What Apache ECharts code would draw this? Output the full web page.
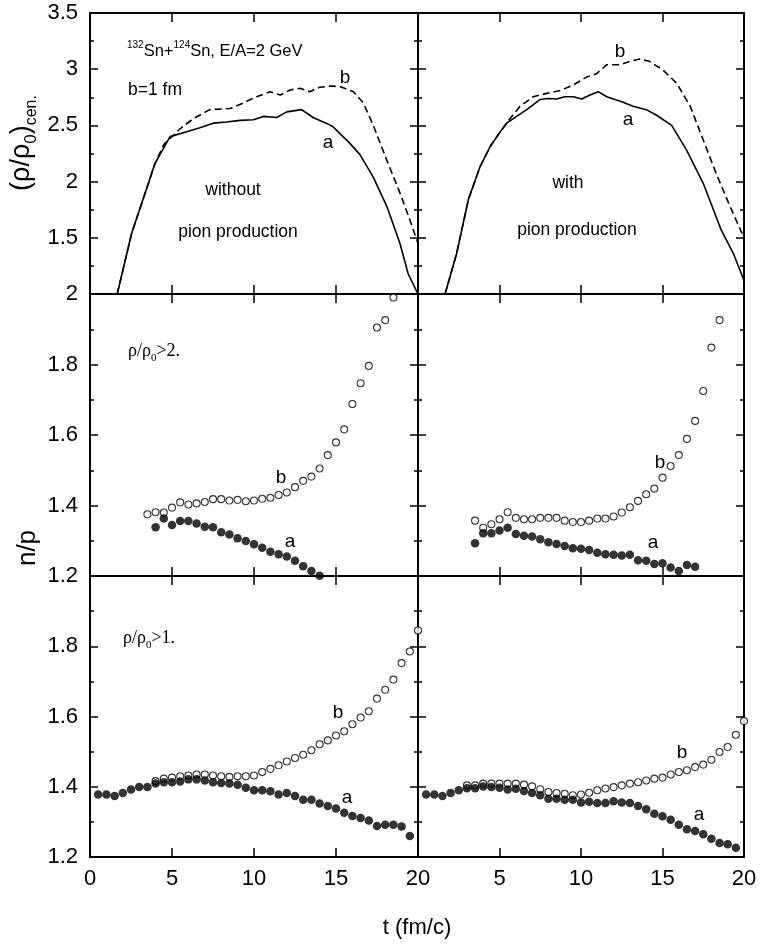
<!DOCTYPE html>
<html><head><meta charset="utf-8">
<script src="https://cdn.jsdelivr.net/npm/echarts@6/dist/echarts.min.js"></script>
<style>html,body{margin:0;padding:0;background:#fff}#c{width:760px;height:948px}</style>
</head><body><div id="c"></div>
<script>
// ---------- DATA ----------
// Top row: central density (rho/rho0)cen. vs t (fm/c)
const tTopLeftA = [1.66,2.54,3.46,3.96,4.88,5.79,6.7,7.52,8.33,9.15,9.96,10.57,11.38,12.0,12.9,13.6,14.4,14.8,15.85,16.46,17.27,18.1,18.9,19.4,20.0];
const rhoTopLeftA = [1.0,1.54,1.94,2.16,2.40,2.44,2.48,2.52,2.53,2.545,2.55,2.58,2.57,2.62,2.64,2.57,2.52,2.49,2.34,2.24,2.04,1.78,1.45,1.18,1.0];
const tTopLeftB = [1.66,2.54,3.46,3.96,4.5,5.49,6.3,7.3,8.54,9.35,10.16,10.98,11.6,12.2,12.8,13.4,14.0,14.74,15.24,16.06,16.67,17.3,18.1,18.9,19.5,20.0];
const rhoTopLeftB = [1.0,1.54,1.94,2.16,2.33,2.47,2.56,2.64,2.65,2.70,2.755,2.80,2.77,2.815,2.83,2.80,2.84,2.85,2.845,2.80,2.70,2.49,2.19,1.90,1.66,1.45];
const tTopRightA = [1.66,2.37,3.09,3.80,4.42,5.03,5.44,6.05,6.67,7.48,8.0,8.5,9.0,9.53,10.04,10.55,11.06,11.58,12.5,13.2,14.0,14.64,15.56,16.48,17.5,18.6,19.35,20.0];
const rhoTopRightA = [1.0,1.36,1.84,2.13,2.31,2.44,2.52,2.58,2.64,2.73,2.74,2.735,2.755,2.755,2.735,2.77,2.80,2.755,2.71,2.67,2.64,2.59,2.50,2.28,1.985,1.57,1.36,1.12];
const tTopRightB = [1.66,2.37,3.09,3.80,4.42,5.03,5.64,6.26,7.07,7.9,8.71,9.53,10.35,10.96,11.58,12.4,13.0,13.6,14.2,15.05,15.87,16.7,17.5,18.3,19.14,20.0];
const rhoTopRightB = [1.0,1.36,1.84,2.13,2.31,2.44,2.56,2.67,2.755,2.785,2.81,2.86,2.93,2.96,3.04,3.04,3.07,3.09,3.07,2.99,2.875,2.67,2.37,2.07,1.78,1.50];

// Middle row: n/p for rho/rho0 > 2
const tMidB = [3.5,4,4.5,5,5.5,6,6.5,7,7.5,8,8.5,9,9.5,10,10.5,11,11.5,12,12.5,13,13.5,14,14.5,15,15.5,16,16.5,17,17.5,18,18.5];
const npMidLeftB = [1.375,1.381,1.380,1.394,1.409,1.403,1.406,1.410,1.418,1.418,1.414,1.416,1.412,1.414,1.419,1.422,1.430,1.437,1.452,1.470,1.482,1.505,1.543,1.579,1.616,1.688,1.747,1.796,1.905,1.926,1.990];
const tMidLeftA = [4,4.5,5,5.5,6,6.5,7,7.5,8,8.5,9,9.5,10,10.5,11,11.5,12,12.5,13,13.5,14];
const npMidLeftA = [1.338,1.363,1.345,1.356,1.356,1.349,1.340,1.338,1.324,1.318,1.307,1.299,1.290,1.280,1.269,1.262,1.255,1.243,1.228,1.214,1.201];
const npMidRightB = [1.357,1.337,1.347,1.361,1.381,1.365,1.361,1.361,1.365,1.365,1.365,1.357,1.353,1.353,1.357,1.363,1.363,1.369,1.380,1.395,1.413,1.432,1.448,1.479,1.512,1.543,1.589,1.640,1.725,1.848,1.926];
const tMidRightA = [3.5,4,4.5,5,5.5,6,6.5,7,7.5,8,8.5,9,9.5,10,10.5,11,11.5,12,12.5,13,13.5,14,14.5,15,15.5,16,16.5,17];
const npMidRightA = [1.293,1.321,1.321,1.329,1.337,1.319,1.314,1.312,1.304,1.296,1.291,1.285,1.279,1.277,1.274,1.266,1.262,1.260,1.258,1.260,1.245,1.243,1.234,1.236,1.224,1.214,1.231,1.226];

// Bottom row: n/p for rho/rho0 > 1
const tBotA = [0.5,1,1.5,2,2.5,3,3.5,4,4.5,5,5.5,6,6.5,7,7.5,8,8.5,9,9.5,10,10.5,11,11.5,12,12.5,13,13.5,14,14.5,15,15.5,16,16.5,17,17.5,18,18.5,19,19.5];
const npBotLeftA = [1.378,1.378,1.374,1.382,1.392,1.399,1.399,1.409,1.413,1.413,1.415,1.421,1.421,1.418,1.413,1.411,1.409,1.406,1.397,1.390,1.390,1.387,1.378,1.382,1.374,1.363,1.363,1.352,1.345,1.338,1.326,1.317,1.311,1.304,1.288,1.292,1.292,1.287,1.260];
const tBotLeftB = [4,4.5,5,5.5,6,6.5,7,7.5,8,8.5,9,9.5,10,10.5,11,11.5,12,12.5,13,13.5,14,14.5,15,15.5,16,16.5,17,17.5,18,18.5,19,19.5,20];
const npBotLeftB = [1.416,1.423,1.426,1.430,1.432,1.435,1.435,1.432,1.430,1.428,1.430,1.430,1.432,1.442,1.451,1.461,1.472,1.482,1.491,1.504,1.521,1.532,1.546,1.558,1.578,1.597,1.615,1.651,1.676,1.705,1.752,1.785,1.845];
const npBotRightA = [1.378,1.378,1.374,1.382,1.390,1.396,1.396,1.401,1.399,1.397,1.392,1.394,1.388,1.382,1.376,1.366,1.366,1.363,1.363,1.355,1.357,1.354,1.354,1.359,1.355,1.354,1.345,1.336,1.323,1.316,1.306,1.292,1.279,1.274,1.265,1.252,1.240,1.236,1.226];
const tBotRightB = [3,3.5,4,4.5,5,5.5,6,6.5,7,7.5,8,8.5,9,9.5,10,10.5,11,11.5,12,12.5,13,13.5,14,14.5,15,15.5,16,16.5,17,17.5,18,18.5,19,19.5,20];
const npBotRightB = [1.404,1.404,1.409,1.409,1.409,1.409,1.409,1.406,1.401,1.393,1.385,1.382,1.380,1.376,1.378,1.383,1.390,1.395,1.399,1.404,1.409,1.413,1.418,1.423,1.426,1.435,1.442,1.447,1.456,1.463,1.477,1.499,1.513,1.548,1.587];

const xTicks = [0,5,10,15,20];
const yTopTicks = [1,1.5,2,2.5,3,3.5];
const yNpTicks = [1.2,1.4,1.6,1.8,2.0];

// ---------- BUILD ----------
const zip = (t, v) => t.map((x, i) => [x, v[i]]);
const FONT = '"Liberation Sans", Arial, sans-serif';
const SERIF = '"Liberation Serif", "Times New Roman", serif';

const grids = [
  {left:90, top:13, width:328, height:281},
  {left:418, top:13, width:326, height:281},
  {left:90, top:294, width:328, height:282},
  {left:418, top:294, width:326, height:282},
  {left:90, top:576, width:328, height:281},
  {left:418, top:576, width:326, height:281}
];
const yRange = [
  [yTopTicks[0], yTopTicks[yTopTicks.length-1], 0.5],
  [yTopTicks[0], yTopTicks[yTopTicks.length-1], 0.5],
  [yNpTicks[0], yNpTicks[yNpTicks.length-1], 0.2],
  [yNpTicks[0], yNpTicks[yNpTicks.length-1], 0.2],
  [yNpTicks[0], yNpTicks[yNpTicks.length-1], 0.2],
  [yNpTicks[0], yNpTicks[yNpTicks.length-1], 0.2]
];
const axisLine = {show:true, onZero:false, lineStyle:{color:'#000', width:2}};
const xAxes = [], yAxes = [];
grids.forEach((g, i) => {
  const bottomRow = i >= 4, leftCol = i % 2 === 0;
  const base = {type:'value', gridIndex:i, min:xTicks[0], max:xTicks[xTicks.length-1], interval:5,
    axisLine, splitLine:{show:false},
    axisTick:{show:true, inside:true, length:9, lineStyle:{color:'#000', width:1.5}}};
  xAxes.push(Object.assign({}, base, {position:'bottom',
    axisLabel:{show:bottomRow, color:'#000', fontFamily:FONT, fontSize:22, margin:11,
      formatter: v => (!leftCol && v === 0) ? '' : String(v)}}));
  xAxes.push(Object.assign({}, base, {position:'top', axisLabel:{show:false}}));
  const [mn, mx, iv] = yRange[i];
  const ybase = {type:'value', gridIndex:i, min:mn, max:mx, interval:iv,
    axisLine, splitLine:{show:false},
    axisTick:{show:true, inside:true, length:8, lineStyle:{color:'#000', width:1.5}},
    minorTick:{show:true, splitNumber:2, length:4, lineStyle:{color:'#000', width:1.5}}};
  yAxes.push(Object.assign({}, ybase, {position:'left',
    axisLabel:{show:leftCol, color:'#000', fontFamily:FONT, fontSize:22, margin:12,
      formatter: v => {
        if (i === 0 && Math.abs(v - 1) < 1e-6) return '';
        if (i === 4 && Math.abs(v - 2) < 1e-6) return '';
        return String(Math.round(v*10)/10);
      }}}));
  yAxes.push(Object.assign({}, ybase, {position:'right', axisLabel:{show:false}}));
});

function lineSeries(gi, t, v, dashed) {
  return {type:'line', xAxisIndex:2*gi, yAxisIndex:2*gi, data:zip(t, v), showSymbol:false, symbol:'none',
    lineStyle:{color:'#000', width:1.6, type: dashed ? [7,4] : 'solid'}, clip:false, z:3};
}
function openSeries(gi, t, v) {
  return {type:'scatter', xAxisIndex:2*gi, yAxisIndex:2*gi, data:zip(t, v), symbol:'circle', symbolSize:7,
    itemStyle:{color:'#fff', borderColor:'#000', borderWidth:1.1}, clip:false, z:3};
}
function filledSeries(gi, t, v) {
  return {type:'scatter', xAxisIndex:2*gi, yAxisIndex:2*gi, data:zip(t, v), symbol:'circle', symbolSize:8.5,
    itemStyle:{color:'#000'}, clip:false, z:4};
}

const series = [
  lineSeries(0, tTopLeftA, rhoTopLeftA, false),
  lineSeries(0, tTopLeftB, rhoTopLeftB, true),
  lineSeries(1, tTopRightA, rhoTopRightA, false),
  lineSeries(1, tTopRightB, rhoTopRightB, true),
  openSeries(2, tMidB, npMidLeftB),
  filledSeries(2, tMidLeftA, npMidLeftA),
  openSeries(3, tMidB, npMidRightB),
  filledSeries(3, tMidRightA, npMidRightA),
  openSeries(4, tBotLeftB, npBotLeftB),
  filledSeries(4, tBotA, npBotLeftA),
  openSeries(5, tBotRightB, npBotRightB),
  filledSeries(5, tBotA, npBotRightA)
];

function txt(x, y, text, size, opts, rot) {
  const o = {type:'text', x, y, z:10, style:Object.assign({text, fill:'#000',
    font: size + 'px ' + FONT, align:'center', verticalAlign:'middle'}, opts || {})};
  if (rot) o.rotation = rot;
  return o;
}
function subLabel(x, y, cut) {
  return {type:'text', x, y, z:10, style:{
    text:'{m|ρ/ρ}{s|0}{m|>' + cut + '}', align:'left', verticalAlign:'middle', fill:'#000',
    rich:{m:{fontSize:18, fontFamily:SERIF, lineHeight:18, verticalAlign:'top', fill:'#000'},
          s:{fontSize:11, fontFamily:SERIF, lineHeight:21, verticalAlign:'bottom', fill:'#000'}}}};
}
const graphic = [
  {type:'text', x:127, y:50, z:10, style:{
    text:'{s|132}{m|Sn+}{s|124}{m|Sn, E/A=2 GeV}', align:'left', verticalAlign:'middle', fill:'#000',
    rich:{s:{fontSize:10, fontFamily:FONT, lineHeight:10, verticalAlign:'top', fill:'#000'},
          m:{fontSize:16.5, fontFamily:FONT, lineHeight:20, verticalAlign:'bottom', fill:'#000'}}}},
  txt(128, 90, 'b=1 fm', 17.5, {align:'left'}),
  txt(233, 190, 'without', 17.5),
  txt(238, 232, 'pion production', 17.5),
  txt(568, 183, 'with', 17.5),
  txt(577, 230, 'pion production', 17.5),
  txt(345, 78, 'b', 19), txt(328, 143, 'a', 19),
  txt(620, 52, 'b', 19), txt(628, 120, 'a', 19),
  txt(281, 478, 'b', 19), txt(290, 542, 'a', 19),
  txt(660, 463, 'b', 19), txt(653, 543, 'a', 19),
  txt(338, 713, 'b', 19), txt(347, 798, 'a', 19),
  txt(682, 753, 'b', 19), txt(699, 815, 'a', 19),
  subLabel(128, 353, '2.'),
  subLabel(123, 640, '1.'),
  {type:'text', x:24, y:143, rotation:Math.PI/2, z:10, style:{
    text:'{m|(ρ/ρ}{s|0}{m|)}{c|cen.}', align:'center', verticalAlign:'middle', fill:'#000',
    rich:{m:{fontSize:27, fontFamily:FONT, lineHeight:27, verticalAlign:'top', fill:'#000'},
          s:{fontSize:17, fontFamily:FONT, lineHeight:31, verticalAlign:'bottom', fill:'#000'},
          c:{fontSize:16, fontFamily:FONT, lineHeight:32, verticalAlign:'bottom', fill:'#000'}}}},
  txt(28, 548, 'n/p', 26, {}, Math.PI/2),
  txt(417, 928, 't (fm/c)', 22)
];

const chart = echarts.init(document.getElementById('c'));
chart.setOption({
  animation:false,
  backgroundColor:'#fff',
  grid: grids,
  xAxis: xAxes,
  yAxis: yAxes,
  series,
  graphic
});
</script>
</body></html>
